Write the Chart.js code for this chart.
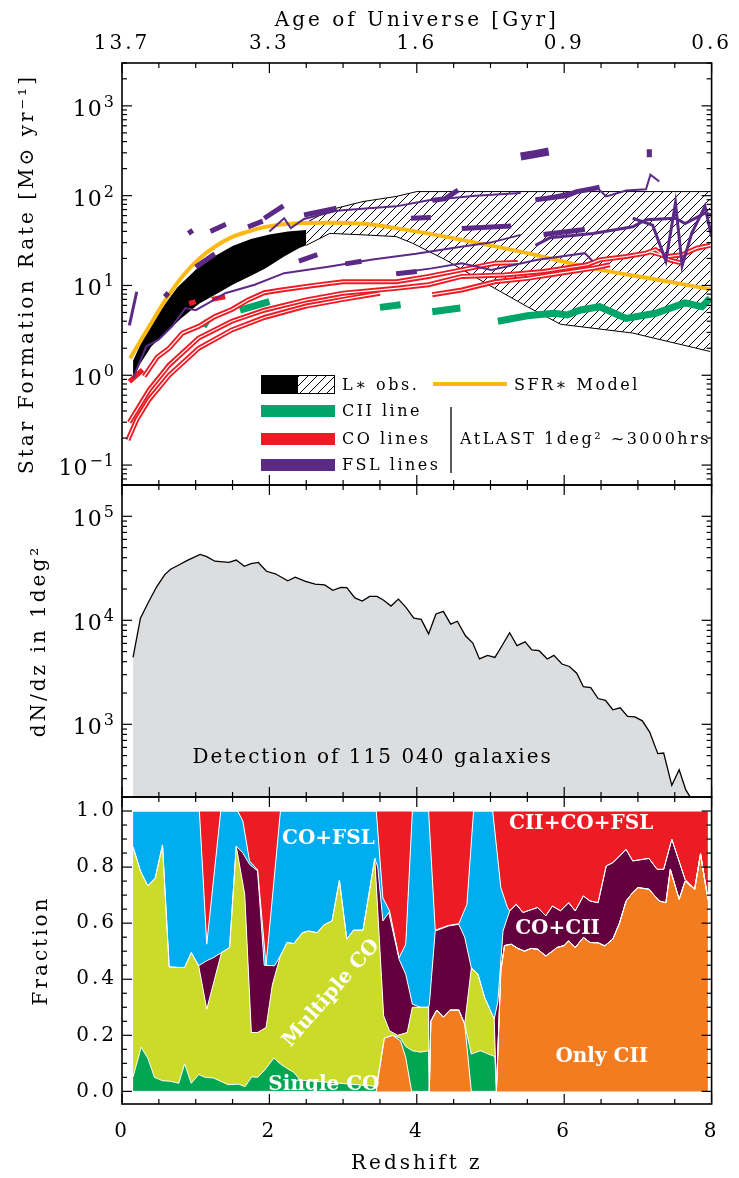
<!DOCTYPE html>
<html>
<head>
<meta charset="utf-8">
<script src="https://cdn.jsdelivr.net/npm/chart.js@4.4.0/dist/chart.umd.min.js"></script>
<style>
  html, body { margin: 0; padding: 0; background: #fff; }
</style>
</head>
<body>
<canvas id="myChart" width="739" height="1178"></canvas>
<script>
// ---- axis ticks ----
const zTicks = [0, 2, 4, 6, 8];
const zLabels = ['0', '2', '4', '6', '8'];
const ageLabels = ['13.7', '3.3', '1.6', '0.9', '0.6'];
const sfrTickVals = [0.1, 1, 10, 100, 1000];
const sfrTickExp = ['−1', '0', '1', '2', '3'];
const nTickVals = [1000, 10000, 100000];
const nTickExp = ['3', '4', '5'];
const fracTickVals = [0, 0.2, 0.4, 0.6, 0.8, 1.0];
const fracTickLabels = ['0.0', '0.2', '0.4', '0.6', '0.8', '1.0'];

// ---- top panel: star formation rate [z, SFR] ----
const lstarUpper = [[0.15,1.45],[0.3,2.7],[0.5,5.0],[0.75,9.5],[1.0,15],[1.25,21],[1.5,27.5],[1.75,33],[2.0,37],[2.25,40],[2.5,41.5]];
const lstarLower = [[0.15,0.95],[0.25,1.35],[0.4,2.1],[0.6,3.0],[0.8,4.3],[1.05,6.3],[1.3,8.2],[1.5,10.2],[1.75,12.8],[1.95,15.5],[2.2,21],[2.4,26],[2.5,28]];
const hatchUpper = [[2.5,50],[2.82,69.5],[3.27,86],[3.72,98],[4.0,111],[8.0,111]];
const hatchLower = [[2.5,28],[2.82,38],[3.27,36.6],[3.72,35],[3.94,29.6],[4.39,19.3],[4.97,10.2],[5.5,5.8],[5.95,3.7],[6.93,2.95],[7.98,1.84]];
const sfrModel = [[0.11,1.55],[0.37,3.5],[0.59,6.9],[0.82,12.6],[1.04,19.6],[1.26,27],[1.49,34.5],[1.71,39.8],[1.93,44.6],[2.38,49.4],[2.82,50],[3.27,48.6],[3.72,43.5],[4.61,32.2],[5.5,22.9],[6.39,15.5],[7.29,11.5],[7.98,9.1]];

const ciiSegs = [
  [[1.10,3.9],[1.17,3.6]],
  [[1.60,5.3],[2.00,6.6]],
  [[3.50,5.7],[3.78,6.1]],
  [[4.21,5.1],[4.59,5.6]],
  [[5.10,4.0],[5.50,4.6],[5.86,4.9],[6.04,4.7],[6.21,5.3],[6.48,5.8],[6.84,4.3],[7.24,4.9],[7.64,6.4],[7.87,5.8],[7.98,7.2]]
];
const coLines = [
  [[0.08,0.19],[0.2,0.32],[0.37,0.54],[0.64,1.0],[1.04,2.0],[1.49,3.2],[1.93,4.4],[2.5,5.9],[3.0,7.0],[3.5,8.2]],
  [[0.10,0.30],[0.37,0.69],[0.64,1.3],[1.04,2.6],[1.49,4.0],[1.93,5.3],[2.5,6.9],[3.0,8.2],[3.72,9.3],[4.16,10.2],[4.61,12.6],[5.19,13.1],[5.72,14.3],[6.31,17],[6.48,19.3],[6.84,21],[7.11,22.9],[7.24,25],[7.42,19.3],[7.6,17.7]],
  [[0.30,0.97],[0.48,1.6],[0.64,2.0],[0.82,2.95],[1.04,3.5],[1.26,4.5],[1.49,5.4],[1.71,6.9],[1.93,8.3],[2.16,8.9],[2.6,10.0],[3.0,11],[3.72,11],[4.16,12.6],[4.61,14.9],[5.06,17.7],[5.37,18]],
  [[4.21,7.9],[4.61,8.9],[5.06,11],[5.5,12],[5.95,13.7],[6.4,15.6],[6.62,17]],
  [[7.15,24],[7.4,21],[7.6,22],[7.8,26],[7.98,28]]
];
const coDashes = [[[0.10,0.85],[0.28,1.15]], [[0.91,6.3],[1.0,6.6]], [[1.22,7.0],[1.40,7.5]]];

const fslThin = [
  [[0.15,0.93],[0.33,2.1],[0.5,2.5],[0.68,3.5],[0.86,5.6],[1.0,5.3],[1.17,6.35],[1.40,8.2],[1.8,10.2],[2.2,13.7],[2.82,16.3],[3.4,19.5],[3.99,22.5],[4.6,27],[5.0,30],[5.41,36.6]],
  [[3.72,13.7],[4.2,15.5],[4.61,17.7],[5.01,14.9],[5.64,19.3],[6.28,22.9],[6.39,18.5]],
  [[5.61,90],[6.13,111],[6.44,124],[6.57,98],[6.84,114],[7.11,118],[7.17,171],[7.29,144]],
  [[2.0,40],[2.2,56],[2.29,43.5],[2.47,55],[2.91,68],[3.3,72],[3.72,76],[4.16,89],[4.8,100],[5.41,107]]
];
const fslMedium = [
  [[0.10,3.6],[0.20,8.5]],
  [[5.61,28],[5.81,34],[6.39,38],[6.93,45],[7.11,54],[7.51,56],[7.64,49],[7.91,64],[8.0,61]],
  [[6.93,56],[7.20,47],[7.38,18.8],[7.51,83],[7.60,16.6],[7.73,38],[7.91,76],[8.0,35]]
];
const fslDashes = [
  [[[0.90,38],[0.96,41]], [[1.20,40],[1.41,48]], [[1.71,45],[1.91,52]], [[1.93,56],[2.19,77]]],
  [[[0.58,7.5],[0.63,8.3]], [[1.0,16],[1.26,22.5]]],
  [[[2.40,18.7],[2.65,22]], [[3.03,17.4],[3.25,18.6]], [[3.72,13.5],[4.0,14.3]]],
  [[[2.47,61],[2.91,72.5]], [[3.92,56],[4.19,57]], [[4.21,89],[4.38,92],[4.56,115]], [[4.61,43],[5.28,46]], [[5.61,90],[6.04,100],[6.17,111],[6.35,118],[6.48,124]]],
  [[[5.72,37],[6.28,42]]]
];
const fslBlobs = [[[5.41,273],[5.6,290],[5.79,310]], [[7.12,297],[7.19,297]]];

// ---- middle panel: dN/dz ----
const nZ = [0.15,0.25,0.36,0.47,0.58,0.66,0.77,0.88,1.06,1.15,1.26,1.45,1.55,1.66,1.75,1.85,1.96,2.08,2.25,2.35,2.49,2.62,2.75,2.86,2.97,3.05,3.16,3.26,3.36,3.46,3.55,3.65,3.75,3.85,3.96,4.06,4.16,4.26,4.36,4.46,4.55,4.66,4.76,4.85,4.96,5.06,5.15,5.26,5.36,5.47,5.56,5.66,5.77,5.86,5.97,6.07,6.17,6.26,6.36,6.46,6.56,6.66,6.76,6.86,6.96,7.06,7.16,7.27,7.35,7.46,7.56,7.65,7.75,7.95];
const nCount = [4400,10500,15000,21000,27500,31000,34000,37500,43000,41000,37000,36000,38000,33000,35000,36000,29600,28000,24000,26000,23700,22300,21900,19400,20700,20600,16400,15300,17000,17000,15600,13700,16000,13400,10500,10200,7400,11500,12200,9200,9800,7100,6050,4250,4600,4400,5600,7600,5700,6200,5200,5100,4250,4600,3800,3600,3100,2300,2250,1770,1700,1380,1440,1190,1180,1080,843,522,530,259,366,234,180,165];

// ---- bottom panel: cumulative fraction (top edge of each class) ----
const orangeTail = [[5.28,0.525],[5.37,0.51],[5.46,0.50],[5.55,0.51],[5.64,0.507],[5.75,0.483],[5.84,0.50],[5.9,0.513],[6.0,0.52],[6.06,0.537],[6.15,0.513],[6.26,0.549],[6.35,0.531],[6.46,0.53],[6.55,0.519],[6.66,0.543],[6.75,0.6],[6.84,0.679],[6.93,0.709],[7.0,0.727],[7.15,0.721],[7.29,0.679],[7.38,0.673],[7.44,0.792],[7.56,0.685],[7.64,0.75],[7.77,0.721],[7.85,0.846],[7.95,0.685]];
const onlyCiiTop = [[0.15,0],[3.45,0],[3.49,0.07],[3.56,0.19],[3.67,0.2],[3.78,0.18],[3.85,0.12],[3.93,0],[4.17,0],[4.19,0.25],[4.27,0.29],[4.36,0.265],[4.45,0.29],[4.57,0.29],[4.65,0.24],[4.74,0],[5.08,0],[5.14,0.43],[5.19,0.52]].concat(orangeTail);
const singleCoTop = [[0.15,0.052],[0.26,0.157],[0.35,0.119],[0.44,0.05],[0.55,0.038],[0.66,0.036],[0.77,0.029],[0.85,0.098],[0.94,0.029],[1.04,0.06],[1.13,0.05],[1.24,0.048],[1.44,0.024],[1.58,0.026],[1.67,0.017],[1.76,0.052],[1.84,0.05],[1.93,0.074],[2.06,0.119],[2.15,0.098],[2.24,0.082],[2.33,0.068],[2.42,0.04],[2.82,0.032],[3.09,0.026],[3.36,0.02],[3.45,0.017],[3.49,0.08],[3.56,0.19],[3.67,0.2],[3.78,0.19],[3.85,0.16],[3.94,0.145],[4.05,0.14],[4.16,0.145],[4.17,0],[4.19,0.25],[4.27,0.29],[4.36,0.265],[4.45,0.29],[4.57,0.29],[4.65,0.24],[4.74,0.133],[4.86,0.145],[5.06,0.124],[5.08,0],[5.14,0.43],[5.19,0.52]].concat(orangeTail);
const multiCoTop = [[0.15,0.872],[0.25,0.786],[0.35,0.733],[0.45,0.76],[0.55,0.879],[0.64,0.444],[0.77,0.442],[0.85,0.442],[0.94,0.495],[1.04,0.448],[1.15,0.293],[1.35,0.495],[1.46,0.513],[1.55,0.875],[1.665,0.703],[1.755,0.21],[1.84,0.21],[1.955,0.228],[2.04,0.38],[2.15,0.484],[2.24,0.531],[2.33,0.527],[2.45,0.566],[2.53,0.572],[2.65,0.566],[2.74,0.594],[2.85,0.608],[2.95,0.753],[3.05,0.543],[3.14,0.575],[3.27,0.575],[3.43,0.831],[3.55,0.27],[3.63,0.216],[3.74,0.2],[3.87,0.21],[3.94,0.3],[4.05,0.3],[4.16,0.3],[4.17,0],[4.19,0.25],[4.27,0.29],[4.36,0.265],[4.45,0.29],[4.57,0.29],[4.65,0.24],[4.74,0.44],[4.83,0.418],[4.92,0.335],[5.05,0.258],[5.08,0],[5.14,0.43],[5.19,0.52]].concat(orangeTail);
const coCiiTop = [[0.15,0.872],[0.25,0.786],[0.35,0.733],[0.45,0.76],[0.55,0.879],[0.64,0.444],[0.77,0.442],[0.85,0.442],[0.94,0.495],[1.04,0.448],[1.15,0.466],[1.24,0.477],[1.35,0.495],[1.46,0.513],[1.55,0.875],[1.64,0.85],[1.73,0.81],[1.84,0.786],[1.93,0.45],[2.07,0.448],[2.15,0.484],[2.24,0.531],[2.33,0.527],[2.45,0.566],[2.53,0.572],[2.65,0.566],[2.74,0.594],[2.85,0.608],[2.95,0.753],[3.05,0.543],[3.14,0.575],[3.27,0.575],[3.43,0.831],[3.47,0.80],[3.54,0.608],[3.62,0.638],[3.76,0.471],[3.85,0.418],[3.94,0.311],[4.05,0.3],[4.16,0.3],[4.17,0.31],[4.25,0.572],[4.43,0.59],[4.57,0.596],[4.65,0.55],[4.74,0.44],[4.83,0.418],[4.92,0.335],[5.05,0.258],[5.10,0.32],[5.17,0.572],[5.26,0.644],[5.35,0.667],[5.44,0.638],[5.64,0.656],[5.75,0.626],[5.84,0.661],[5.95,0.644],[6.06,0.673],[6.15,0.644],[6.26,0.697],[6.35,0.679],[6.46,0.673],[6.57,0.804],[6.66,0.816],[6.84,0.863],[6.93,0.822],[7.15,0.831],[7.26,0.792],[7.35,0.792],[7.46,0.899],[7.55,0.828],[7.64,0.756],[7.77,0.721],[7.85,0.848],[7.95,0.685]];
const coFslTop = [[0.15,1],[1.05,1],[1.15,0.525],[1.34,1],[1.57,1],[1.64,0.964],[1.73,0.822],[1.84,0.79],[1.955,0.45],[2.15,1],[3.45,1],[3.54,0.69],[3.63,0.644],[3.76,0.477],[3.85,0.525],[3.94,1],[4.16,1],[4.25,0.575],[4.43,0.592],[4.57,0.598],[4.68,0.667],[4.77,1],[5.03,1],[5.14,0.727],[5.23,0.656]].concat(coCiiTop.filter(p => p[0] >= 5.26));
const allTop = [[0.15,1],[7.95,1]];

const fracColors = ['#F47C20', '#00A651', '#CBDB2A', '#65003F', '#00AEEF', '#ED1C24'];
const purple = '#5B2A86', red = '#ED1C24', green = '#00A669', gold = '#FDB913';

// ---- helpers ----
const pts = a => a.map(p => ({x: p[0], y: p[1]}));
function segs(list) {
  const out = [];
  list.forEach((s, k) => {
    if (k) out.push({x: s[0][0], y: null});
    s.forEach(p => out.push({x: p[0], y: p[1]}));
  });
  return out;
}
const ctxMain = document.getElementById('myChart').getContext('2d');
function makeHatch() {
  const c = document.createElement('canvas');
  c.width = 9; c.height = 9;
  const g = c.getContext('2d');
  g.strokeStyle = '#000'; g.lineWidth = 1;
  g.beginPath();
  g.moveTo(0, 9); g.lineTo(9, 0);
  g.moveTo(-1, 1); g.lineTo(1, -1);
  g.moveTo(8, 10); g.lineTo(10, 8);
  g.stroke();
  return ctxMain.createPattern(c, 'repeat');
}
const hatch = makeHatch();

function line(data, color, width, order, extra) {
  return Object.assign({
    yAxisID: 'ySFR', data: data, borderColor: color, borderWidth: width,
    pointRadius: 0, tension: 0, fill: false, order: order, borderCapStyle: 'butt'
  }, extra || {});
}

const datasets = [];
// fraction panel
[onlyCiiTop, singleCoTop, multiCoTop, coCiiTop, coFslTop, allTop].forEach((b, i) => {
  datasets.push({
    yAxisID: 'yF', data: pts(b), borderColor: '#fff', borderWidth: 1, pointRadius: 0,
    backgroundColor: fracColors[i], fill: i === 0 ? 'origin' : '-1', order: 100
  });
});
// dN/dz
datasets.push({
  yAxisID: 'yN', data: nZ.map((z, i) => ({x: z, y: nCount[i]})), borderColor: '#000',
  borderWidth: 1.3, pointRadius: 0, backgroundColor: '#DCDDDF', fill: 'start', order: 90
});
// L* obs
datasets.push(line(pts(lstarLower), 'rgba(0,0,0,0)', 0, 95));
datasets.push(line(pts(lstarUpper), 'rgba(0,0,0,0)', 0, 95, {fill: '-1', backgroundColor: '#000'}));
datasets.push(line(pts(hatchLower), '#000', 1, 94));
datasets.push(line(pts(hatchUpper), '#000', 1, 94, {fill: '-1', backgroundColor: hatch}));
// SFR model
datasets.push(line(pts(sfrModel), gold, 4, 80, {tension: 0.4, cubicInterpolationMode: 'monotone'}));
// CII
datasets.push(line(segs(ciiSegs), green, 7, 60));
// CO double lines
coLines.forEach(l => {
  datasets.push(line(pts(l), red, 5, 58));
  datasets.push(line(pts(l), '#fff', 1.2, 57));
});
datasets.push(line(segs(coDashes), red, 5, 56));
// FSL
fslThin.forEach(l => datasets.push(line(pts(l), purple, 2, 50)));
fslMedium.forEach(l => datasets.push(line(pts(l), purple, 3, 50)));
fslDashes.forEach(l => datasets.push(line(segs(l), purple, 5, 49)));
datasets.push(line(segs(fslBlobs), purple, 8, 48));

// ---- plugins ----
const spacing = {
  id: 'spacing',
  beforeLayout(chart) { chart.ctx.letterSpacing = '3px'; },
  beforeDraw(chart) { chart.ctx.letterSpacing = '3px'; }
};
const panelClip = {
  id: 'panelClip',
  beforeDatasetDraw(chart, args) {
    const s = chart.scales[args.meta.yAxisID], a = chart.chartArea;
    chart.ctx.save();
    chart.ctx.beginPath();
    chart.ctx.rect(a.left, s.top, a.right - a.left, s.bottom - s.top);
    chart.ctx.clip();
  },
  afterDatasetDraw(chart) { chart.ctx.restore(); }
};
// "10" with a raised exponent for the log axes
const powerLabels = {
  id: 'powerLabels',
  afterDraw(chart) {
    const ctx = chart.ctx, right = chart.chartArea.left - 7;
    ctx.save();
    ctx.fillStyle = '#000';
    ctx.letterSpacing = '1px';
    ctx.textAlign = 'right';
    ctx.textBaseline = 'alphabetic';
    [['ySFR', sfrTickVals, sfrTickExp], ['yN', nTickVals, nTickExp]].forEach(([id, vals, exps]) => {
      const s = chart.scales[id];
      vals.forEach((v, i) => {
        const py = s.getPixelForValue(v);
        ctx.font = '16px "DejaVu Serif"';
        const w = ctx.measureText(exps[i]).width;
        ctx.fillText(exps[i], right, py + 1);
        ctx.font = '22px "DejaVu Serif"';
        ctx.fillText('10', right - w - 1, py + 10);
      });
    });
    ctx.restore();
  }
};
const notes = {
  id: 'notes',
  afterDatasetsDraw(chart) {
    const ctx = chart.ctx, x = chart.scales.x, yF = chart.scales.yF, yN = chart.scales.yN, a = chart.chartArea;
    ctx.save();
    // middle panel text
    ctx.letterSpacing = '2px';
    ctx.fillStyle = '#000';
    ctx.font = '20px "DejaVu Serif"';
    ctx.textAlign = 'center'; ctx.textBaseline = 'middle';
    ctx.fillText('Detection of 115 040 galaxies', x.getPixelForValue(3.4), yN.getPixelForValue(480));
    // fraction labels
    ctx.save();
    ctx.beginPath(); ctx.rect(a.left, yF.top, a.right - a.left, yF.bottom - yF.top); ctx.clip();
    ctx.letterSpacing = '0px';
    ctx.fillStyle = '#fff';
    ctx.font = 'bold 20px "DejaVu Serif"';
    const lab = (t, z, f, rot) => {
      ctx.save();
      ctx.translate(x.getPixelForValue(z), yF.getPixelForValue(f));
      if (rot) ctx.rotate(rot);
      ctx.fillText(t, 0, 0);
      ctx.restore();
    };
    lab('CO+FSL', 2.8, 0.9);
    lab('CII+CO+FSL', 6.23, 0.955);
    lab('CO+CII', 5.91, 0.58);
    lab('Only CII', 6.51, 0.124);
    lab('Multiple CO', 2.84, 0.35, -0.85);
    lab('Single CO', 2.74, 0.025);
    ctx.restore();
    // legend of the top panel
    ctx.letterSpacing = '2.5px';
    ctx.font = '16px "DejaVu Serif"';
    ctx.textAlign = 'left'; ctx.textBaseline = 'middle';
    ctx.fillStyle = '#000';
    ctx.fillRect(261, 375, 37, 19);
    ctx.fillStyle = '#fff'; ctx.fillRect(298, 375, 37, 19);
    ctx.fillStyle = hatch; ctx.fillRect(298, 375, 37, 19);
    ctx.strokeStyle = '#000'; ctx.lineWidth = 1;
    ctx.strokeRect(261.5, 375.5, 73, 18);
    ctx.fillStyle = '#000';
    ctx.fillText('L∗ obs.', 342, 386);
    ctx.strokeStyle = gold; ctx.lineWidth = 4;
    ctx.beginPath(); ctx.moveTo(433, 384); ctx.lineTo(507, 384); ctx.stroke();
    ctx.fillText('SFR∗ Model', 514, 386);
    [[green, 'CII line', 411], [red, 'CO lines', 439], [purple, 'FSL lines', 465]].forEach(r => {
      ctx.fillStyle = r[0]; ctx.fillRect(261, r[2] - 6, 74, 12);
      ctx.fillStyle = '#000'; ctx.fillText(r[1], 342, r[2] + 1);
    });
    ctx.strokeStyle = '#000'; ctx.lineWidth = 1.3;
    ctx.beginPath(); ctx.moveTo(451, 407); ctx.lineTo(451, 473); ctx.stroke();
    ctx.fillText('AtLAST 1deg² ~3000hrs', 460, 440);
    ctx.restore();
  }
};
const frames = {
  id: 'frames',
  afterDraw(chart) {
    const ctx = chart.ctx, a = chart.chartArea, xs = chart.scales.x;
    ctx.save();
    ctx.strokeStyle = '#000';
    const seg = (x1, y1, x2, y2) => { ctx.beginPath(); ctx.moveTo(x1, y1); ctx.lineTo(x2, y2); ctx.stroke(); };
    ['ySFR', 'yN', 'yF'].forEach(id => {
      const s = chart.scales[id];
      ctx.lineWidth = 1.6;
      ctx.strokeRect(a.left, s.top, a.right - a.left, s.bottom - s.top);
      ctx.lineWidth = 1.2;
      for (let z = 0; z <= 8; z += 0.5) {
        const px = xs.getPixelForValue(z), len = z % 2 === 0 ? 10 : 5;
        seg(px, s.top, px, s.top + len);
        seg(px, s.bottom, px, s.bottom - len);
      }
      const yt = [];
      if (s.type === 'logarithmic') {
        for (let d = -2; d <= 6; d++) for (let m = 1; m <= 9; m++) {
          const v = m * Math.pow(10, d);
          if (v >= s.min && v <= s.max) yt.push([v, m === 1 ? 10 : 5]);
        }
      } else {
        for (let k = 0; k <= 20; k++) yt.push([k * 0.05, k % 4 === 0 ? 10 : 5]);
      }
      yt.forEach(t => {
        const py = s.getPixelForValue(t[0]);
        seg(a.left, py, a.left + t[1], py);
        seg(a.right, py, a.right - t[1], py);
      });
    });
    ctx.restore();
  }
};

Chart.defaults.font.family = '"DejaVu Serif", serif';
Chart.defaults.color = '#000';

const fixW = w => s => { s.width = w; };
const fixH = h => s => { s.height = h; };
const tickFont = {size: 20};
const titleFont = {size: 20};

new Chart(ctxMain, {
  type: 'line',
  data: {datasets: datasets},
  options: {
    responsive: false,
    devicePixelRatio: 1,
    animation: false,
    layout: {padding: {left: 0, right: 19, top: 0, bottom: 0}},
    plugins: {
      legend: {display: false},
      tooltip: {enabled: false},
      filler: {drawTime: 'beforeDatasetsDraw'}
    },
    scales: {
      x: {
        type: 'linear', position: 'bottom', min: 0, max: 8,
        grid: {display: false, drawTicks: false}, border: {display: false},
        afterBuildTicks: s => { s.ticks = zTicks.map(v => ({value: v})); },
        afterFit: fixH(74),
        ticks: {font: tickFont, padding: 16, maxRotation: 0, autoSkip: false,
          callback: v => zLabels[zTicks.indexOf(v)]},
        title: {display: true, text: 'Redshift z', font: titleFont, padding: {top: 0, bottom: 2}}
      },
      x2: {
        type: 'linear', position: 'top', min: 0, max: 8,
        grid: {display: false, drawTicks: false}, border: {display: false},
        afterBuildTicks: s => { s.ticks = zTicks.map(v => ({value: v})); },
        afterFit: fixH(63),
        ticks: {font: tickFont, padding: 7, maxRotation: 0, autoSkip: false,
          callback: v => ageLabels[zTicks.indexOf(v)]},
        title: {display: true, text: 'Age of Universe [Gyr]', font: titleFont, padding: {top: 9, bottom: 0}}
      },
      ySFR: {
        type: 'logarithmic', position: 'left', min: 0.06, max: 3000,
        stack: 'panels', stackWeight: 422, weight: 3,
        grid: {display: false, drawTicks: false}, border: {display: false},
        afterBuildTicks: s => { s.ticks = sfrTickVals.map(v => ({value: v})); },
        afterFit: fixW(122),
        ticks: {font: tickFont, padding: 5, autoSkip: false, callback: () => ''},
        title: {display: true, text: 'Star Formation Rate [M⊙ yr⁻¹]', font: titleFont, padding: {top: 16, bottom: 0}}
      },
      yN: {
        type: 'logarithmic', position: 'left', min: 200, max: 200000,
        stack: 'panels', stackWeight: 312, weight: 2,
        grid: {display: false, drawTicks: false}, border: {display: false},
        afterBuildTicks: s => { s.ticks = nTickVals.map(v => ({value: v})); },
        afterFit: fixW(122),
        ticks: {font: tickFont, padding: 5, autoSkip: false, callback: () => ''},
        title: {display: true, text: 'dN/dz in 1deg²', font: titleFont, padding: {top: 28, bottom: 0}}
      },
      yF: {
        type: 'linear', position: 'left', min: -0.045, max: 1.05,
        stack: 'panels', stackWeight: 307, weight: 1,
        grid: {display: false, drawTicks: false}, border: {display: false},
        afterBuildTicks: s => { s.ticks = fracTickVals.map(v => ({value: v})); },
        afterFit: fixW(122),
        ticks: {font: tickFont, padding: 5, autoSkip: false,
          callback: v => fracTickLabels[fracTickVals.indexOf(v)]},
        title: {display: true, text: 'Fraction', font: titleFont, padding: {top: 30, bottom: 0}}
      }
    }
  },
  plugins: [spacing, panelClip, notes, frames, powerLabels]
});
</script>
</body>
</html>
